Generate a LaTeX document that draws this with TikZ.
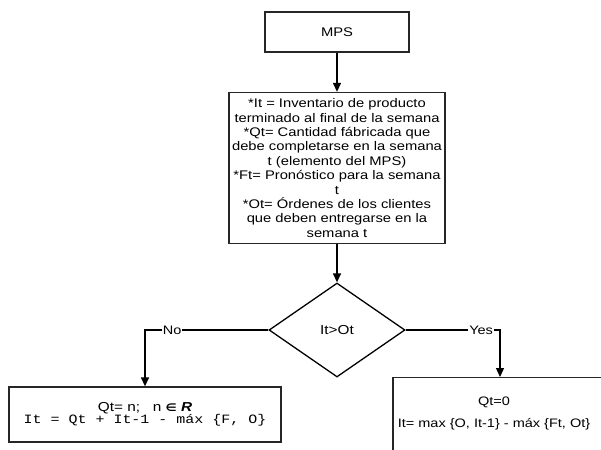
\documentclass[tikz,border=0pt]{standalone}
\usepackage{fontspec}
\setmainfont{Liberation Sans}[FakeStretch=1.18]
\setmonofont{Liberation Mono}[FakeStretch=1.18]
\newfontfamily\djv{DejaVu Sans}[FakeStretch=1.18]
\usetikzlibrary{shapes.geometric,arrows.meta}
\begin{document}
\begin{tikzpicture}[x=1pt,y=-1pt,
  box/.style={draw=black!85, line width=1.3pt, inner sep=0pt},
  conn/.style={line width=1.3pt, draw=black, -{Triangle[length=9pt,width=8pt]}},
  lbl/.style={fill=white, inner sep=1pt, font=\fontsize{12.3}{14}\selectfont},
  txt/.style={font=\fontsize{12.5}{14.4}\selectfont, align=center}]
\useasboundingbox (0,0) rectangle (601,449);
\clip (0,0) rectangle (601,449);
\node[box, minimum width=144pt, minimum height=40pt, font=\fontsize{12.5}{14}\selectfont] (mps) at (337,32) {MPS};
\node[box, minimum width=216pt, minimum height=151pt, txt] (def) at (337,168)
 {*It = Inventario de producto\\terminado al final de la semana\\*Qt= Cantidad fábricada que\\debe completarse en la semana\\t (elemento del MPS)\\*Ft= Pronóstico para la semana\\t\\*Ot= Órdenes de los clientes\\que deben entregarse en la\\semana t};
\node[draw=black, line width=1.3pt, diamond, minimum width=136pt, minimum height=94pt, inner sep=0pt, font=\fontsize{13}{15}\selectfont] (dec) at (337,330) {It>Ot};
\node[box, minimum width=272pt, minimum height=55pt, align=center] (lbox) at (145,414.5)
 {\fontsize{13}{13}\selectfont Qt= n;\ \ \ n {\djv\bfseries\itshape\fontsize{10.5}{13}\selectfont ∈} {\bfseries\itshape R}\\
  \fontsize{12.7}{13}\selectfont\ttfamily It = Qt + It-1 - máx \{F, O\}};
\node[box, minimum width=214pt, minimum height=100pt, anchor=north] (rbox) at (500,377) {};
\node[align=center, font=\fontsize{12.3}{22}\selectfont, anchor=north] (rtext) at (494,393)
 {Qt=0\\It= max \{O, It-1\} - máx \{Ft, Ot\}};
\draw[conn] (mps.south) -- (def.north);
\draw[conn] (def.south) -- (dec.north);
\draw[conn] (dec.west) -| node[lbl, pos=0.39] {No} (lbox.north);
\draw[conn] (dec.east) -| node[lbl, pos=0.40] {Yes} (rbox.north);
\end{tikzpicture}
\end{document}
